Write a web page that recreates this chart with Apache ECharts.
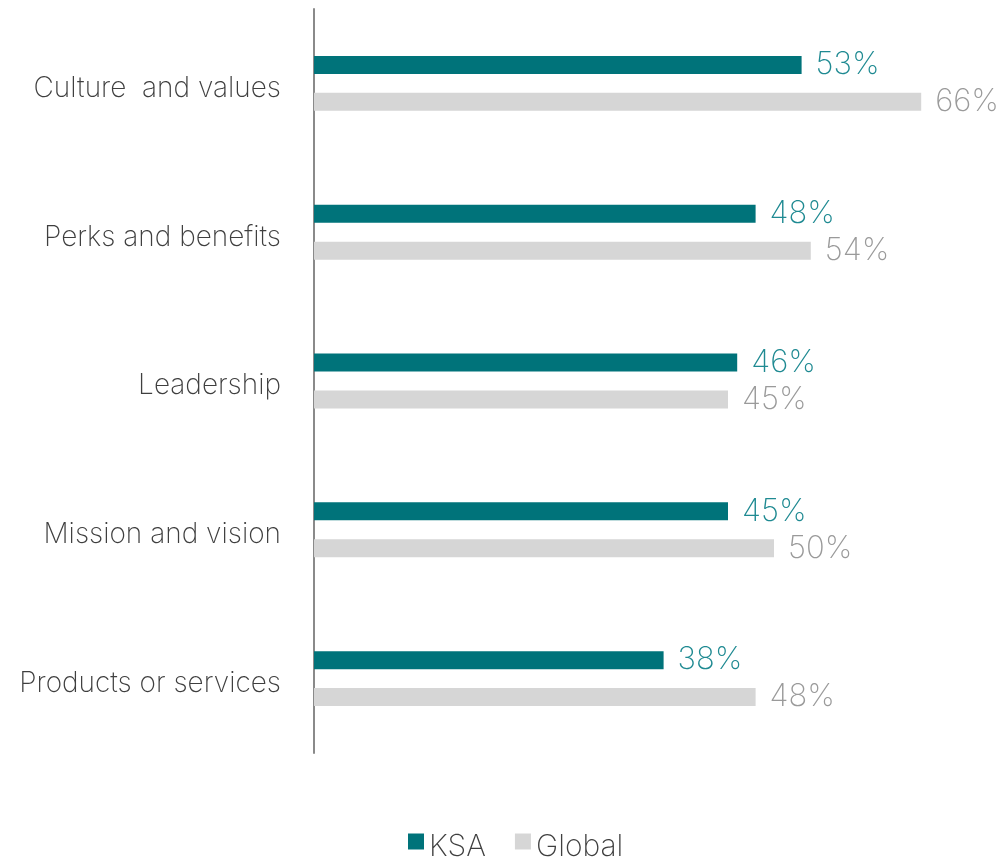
<!DOCTYPE html>
<html><head><meta charset="utf-8">
<script src="https://cdn.jsdelivr.net/npm/echarts@6/dist/echarts.min.js"></script>
<style>html,body{margin:0;padding:0;background:#fff}#c{width:1002px;height:859px}</style>
</head><body><div id="c"></div>
<script>
const categories = ["Culture  and values", "Perks and benefits", "Leadership", "Mission and vision", "Products or services"];
const ksa = [53, 48, 46, 45, 38];
const globalVals = [66, 54, 45, 50, 48];
const seriesNames = ["KSA", "Global"];

const FONT = "Inter";
const chart = echarts.init(document.getElementById('c'), null, {renderer: 'canvas'});
chart.setOption({
  animation: false,
  grid: {left: 314, right: 44, top: 9, bottom: 106, containLabel: false},
  xAxis: {type: 'value', min: 0, max: 70, show: false},
  yAxis: {
    type: 'category', data: categories, inverse: true,
    axisLine: {show: true, lineStyle: {color: '#8a8a8a', width: 2}},
    axisTick: {show: false},
    axisLabel: {color: '#3f3f3f', fontSize: 28, fontFamily: FONT, fontWeight: 200, margin: 33,
                verticalAlign: 'top', lineHeight: 10}
  },
  legend: {
    top: 827, left: 403, itemWidth: 16, itemHeight: 16, itemGap: 29,
    icon: 'rect',
    formatter: '{t|{name}}',
    textStyle: {color: '#3f3f3f', fontSize: 30, fontFamily: FONT, fontWeight: 200,
      rich: {t: {color: '#3f3f3f', fontSize: 30, fontFamily: FONT, fontWeight: 200, padding: [11, 0, 0, 0]}}},
    data: seriesNames
  },
  series: [
    {name: seriesNames[0], type: 'bar', data: ksa, barWidth: 18, barGap: '105%',
     itemStyle: {color: '#00737a'},
     label: {show: true, position: 'right', distance: 14, formatter: '{c}%', color: '#1f8a92', fontSize: 31, fontFamily: FONT, fontWeight: 200}},
    {name: seriesNames[1], type: 'bar', data: globalVals, barWidth: 18,
     itemStyle: {color: '#d6d6d6'},
     label: {show: true, position: 'right', distance: 14, formatter: '{c}%', color: '#9a9a9a', fontSize: 31, fontFamily: FONT, fontWeight: 200}}
  ]
});
</script></body></html>
